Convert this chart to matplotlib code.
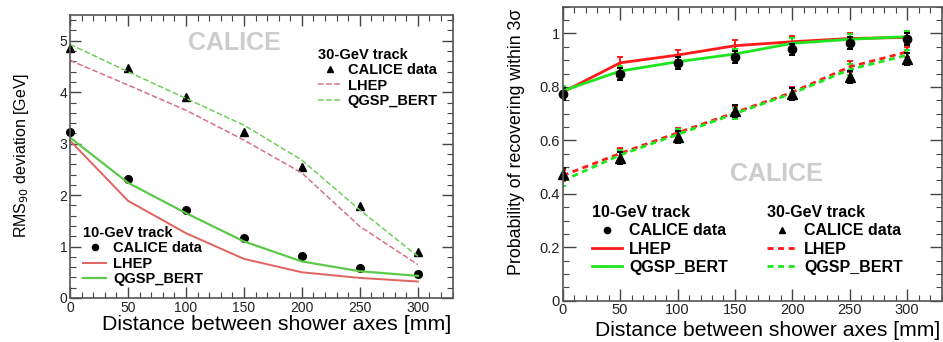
import matplotlib.pyplot as plt
from matplotlib.ticker import MultipleLocator, FuncFormatter

plt.rcParams["font.family"] = ["Liberation Sans", "DejaVu Sans"]

# distance between shower axes [mm]
dist = [0, 50, 100, 150, 200, 250, 300]

# left panel: RMS90 deviation [GeV]
rms10_data = [3.23, 2.31, 1.71, 1.17, 0.81, 0.58, 0.46]
rms10_lhep = [3.06, 1.89, 1.26, 0.76, 0.50, 0.39, 0.32]
rms10_qgsp = [3.12, 2.24, 1.65, 1.10, 0.71, 0.52, 0.43]
rms30_data = [4.86, 4.48, 3.91, 3.23, 2.54, 1.78, 0.89]
rms30_lhep = [4.62, 4.14, 3.65, 3.07, 2.43, 1.39, 0.65]
rms30_qgsp = [4.93, 4.40, 3.88, 3.36, 2.68, 1.71, 0.81]

# right panel: probability of recovering within 3 sigma
p10_data = [0.773, 0.848, 0.888, 0.913, 0.940, 0.963, 0.978]
p10_lhep = [0.780, 0.890, 0.919, 0.954, 0.969, 0.981, 0.985]
p10_qgsp = [0.785, 0.859, 0.894, 0.923, 0.963, 0.978, 0.988]
p30_data = [0.474, 0.535, 0.613, 0.709, 0.772, 0.838, 0.903]
p30_lhep = [0.468, 0.551, 0.628, 0.704, 0.780, 0.875, 0.931]
p30_qgsp = [0.449, 0.545, 0.622, 0.700, 0.776, 0.865, 0.919]
p_err_data = 0.022
p_err_model = 0.02

fig = plt.figure(figsize=(9.43, 3.42), dpi=100)
ax1 = fig.add_axes([0.0742, 0.1287, 0.4058, 0.8273])
ax2 = fig.add_axes([0.5967, 0.1208, 0.4019, 0.8596])


def root_style(ax, major_len=8, minor_len=4, lab=10):
    ax.tick_params(which="both", direction="in", top=True, right=True,
                   colors="#444444", labelcolor="#222222")
    ax.tick_params(which="major", length=major_len, width=1, labelsize=lab, pad=2)
    ax.tick_params(which="minor", length=minor_len, width=0.8)
    for s in ax.spines.values():
        s.set_color("#555555")
        s.set_linewidth(1.2)
    ax.xaxis.set_major_locator(MultipleLocator(50))
    ax.xaxis.set_minor_locator(MultipleLocator(10))
    ax.xaxis.set_major_formatter(FuncFormatter(lambda v, p: "%g" % v))
    ax.yaxis.set_major_formatter(FuncFormatter(lambda v, p: "%g" % v))


# ---------------- left panel ----------------
red_l = "#e2625e"
green_l = "#5cc94a"
red_ld = "#d9707f"
green_ld = "#6fd05a"

ax1.set_xlim(0, 330)
ax1.set_ylim(0, 5.5)
root_style(ax1, 8, 4, 10)
ax1.yaxis.set_major_locator(MultipleLocator(1))
ax1.yaxis.set_minor_locator(MultipleLocator(0.2))

h30d, = ax1.plot(dist, rms30_data, "^", color="black", ms=6, ls="none")
h30l, = ax1.plot(dist, rms30_lhep, "--", color=red_ld, lw=1.1)
h30q, = ax1.plot(dist, rms30_qgsp, "--", color=green_ld, lw=1.1)
h10d, = ax1.plot(dist, rms10_data, "o", color="black", ms=5.5, ls="none")
h10l, = ax1.plot(dist, rms10_lhep, "-", color=red_l, lw=1.4)
h10q, = ax1.plot(dist, rms10_qgsp, "-", color=green_l, lw=1.6)
for h in (h30d, h10d):
    h.set_clip_on(False)

ax1.text(0.43, 0.90, "CALICE", transform=ax1.transAxes, ha="center", va="center",
         fontsize=18, fontweight="bold", color="#cccccc")

leg_kw = dict(frameon=False, loc="upper left", numpoints=1, alignment="left",
              prop={"weight": "bold", "size": 10.5},
              title_fontproperties={"weight": "bold", "size": 10.5},
              handlelength=1.6, handletextpad=0.45, labelspacing=0.1,
              borderpad=0, borderaxespad=0, markerscale=0.8)
leg1a = ax1.legend([h30d, h30l, h30q], ["CALICE data", "LHEP", "QGSP_BERT"],
                   title="30-GeV track", bbox_to_anchor=(0.648, 0.885), **leg_kw)
ax1.add_artist(leg1a)
ax1.legend([h10d, h10l, h10q], ["CALICE data", "LHEP", "QGSP_BERT"],
           title="10-GeV track", bbox_to_anchor=(0.034, 0.255), **leg_kw)

ax1.set_xlabel("Distance between shower axes [mm]", fontsize=15.4)
ax1.set_ylabel("RMS$_{90}$ deviation [GeV]", fontsize=11.5)
ax1.xaxis.set_label_coords(0.54, -0.095)
ax1.yaxis.set_label_coords(-0.126, 0.505)
ax1.xaxis.label.set_va("center")
ax1.yaxis.label.set_va("center")

# ---------------- right panel ----------------
red = "#ff1a1a"
green = "#1ee61e"

ax2.set_xlim(0, 330)
ax2.set_ylim(0, 1.1)
root_style(ax2, 9, 4.5, 10.5)
ax2.yaxis.set_major_locator(MultipleLocator(0.2))
ax2.yaxis.set_minor_locator(MultipleLocator(0.05))

eb = dict(fmt="none", capsize=2, elinewidth=1.4, capthick=1.4)
ax2.errorbar(dist, p10_lhep, yerr=p_err_model, ecolor=red, **eb)
ax2.errorbar(dist, p10_qgsp, yerr=p_err_model, ecolor=green, **eb)
ax2.errorbar(dist, p30_lhep, yerr=p_err_model, ecolor=red, **eb)
ax2.errorbar(dist, p30_qgsp, yerr=p_err_model, ecolor=green, **eb)

g10l, = ax2.plot(dist, p10_lhep, "-", color=red, lw=2)
g10q, = ax2.plot(dist, p10_qgsp, "-", color=green, lw=2)
g30l, = ax2.plot(dist, p30_lhep, "--", color=red, lw=2, dashes=(2.2, 1.6))
g30q, = ax2.plot(dist, p30_qgsp, "--", color=green, lw=2, dashes=(2.2, 1.6))

ax2.errorbar(dist, p10_data, yerr=p_err_data, ecolor="black", **eb)
ax2.errorbar(dist, p30_data, yerr=p_err_data, ecolor="black", **eb)
g10d, = ax2.plot(dist, p10_data, "o", color="black", ms=6, ls="none")
g30d, = ax2.plot(dist, p30_data, "^", color="black", ms=6.5, ls="none")
for h in (g10d, g30d):
    h.set_clip_on(False)

ax2.text(0.565, 0.43, "CALICE", transform=ax2.transAxes, ha="center", va="center",
         fontsize=18, fontweight="bold", color="#cccccc")

leg_kw2 = dict(leg_kw)
leg_kw2["prop"] = {"weight": "bold", "size": 11.5}
leg_kw2["title_fontproperties"] = {"weight": "bold", "size": 11.5}
leg_kw2["handlelength"] = 1.9
leg_kw2["labelspacing"] = 0.2
leg_kw2["markerscale"] = 0.75
leg2a = ax2.legend([g10d, g10l, g10q], ["CALICE data", "LHEP", "QGSP_BERT"],
                   title="10-GeV track", bbox_to_anchor=(0.0765, 0.325), **leg_kw2)
ax2.add_artist(leg2a)
ax2.legend([g30d, g30l, g30q], ["CALICE data", "LHEP", "QGSP_BERT"],
           title="30-GeV track", bbox_to_anchor=(0.538, 0.325), **leg_kw2)

ax2.set_xlabel("Distance between shower axes [mm]", fontsize=15.2)
ax2.set_ylabel("Probability of recovering within 3σ", fontsize=12.8)
ax2.xaxis.set_label_coords(0.54, -0.1)
ax2.yaxis.set_label_coords(-0.121, 0.54)
ax2.xaxis.label.set_va("center")
ax2.yaxis.label.set_va("center")

fig.savefig("out.png", dpi=100)
